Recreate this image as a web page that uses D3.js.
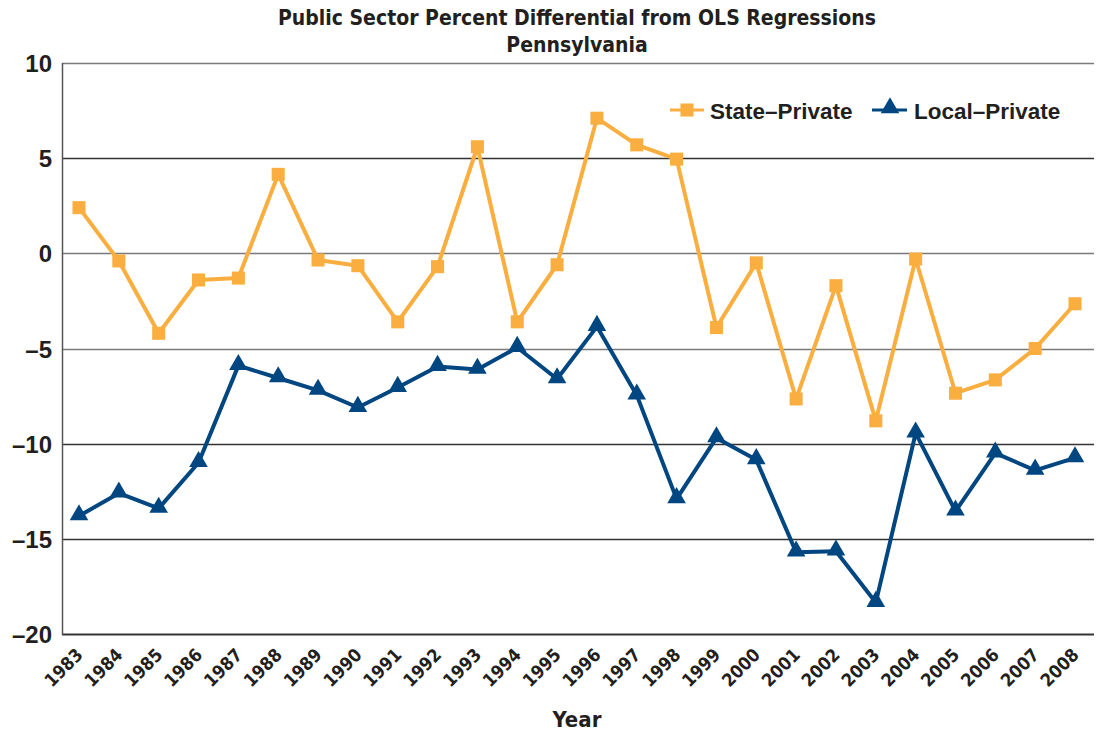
<!DOCTYPE html>
<html>
<head>
<meta charset="utf-8">
<script src="https://cdn.jsdelivr.net/npm/d3@7"></script>
<style>
  body { margin: 0; background: #fff; }
  svg { display: block; }
  .cond { font-family: "Liberation Sans Narrow", "DejaVu Sans Condensed", "Roboto Condensed", sans-serif; font-weight: bold; }
</style>
</head>
<body>
<svg id="chart" width="1096" height="736"></svg>
<script>
const years = d3.range(1983, 2009);
const statePrivate = [2.4, -0.4, -4.2, -1.4, -1.3, 4.15, -0.35, -0.65, -3.6, -0.7, 5.6, -3.6, -0.6,
  7.1, 5.7, 4.95, -3.9, -0.5, -7.65, -1.7, -8.8, -0.3, -7.35, -6.65, -5.0, -2.65];
const localPrivate = [-13.8, -12.6, -13.4, -11.0, -5.9, -6.55, -7.2, -8.1, -7.05, -5.95, -6.1, -4.95, -6.6,
  -3.85, -7.45, -12.9, -9.7, -10.85, -15.7, -15.65, -18.35, -9.45, -13.55, -10.5, -11.4, -10.75];
const yTicks = [10, 5, 0, -5, -10, -15, -20];

const orange = "#f9ae3f", blue = "#004680";
const svg = d3.select("#chart");

const x = d3.scalePoint().domain(years).range([79, 1075]);
const y = d3.scaleLinear().domain([-20, 10]).range([634, 63]);
const left = 62, right = 1094;

// title
svg.append("text").attr("class", "cond").attr("x", 577).attr("y", 25)
  .attr("text-anchor", "middle").attr("font-size", 21).attr("fill", "#231f20")
  .text("Public Sector Percent Differential from OLS Regressions");
svg.append("text").attr("class", "cond").attr("x", 577).attr("y", 52)
  .attr("text-anchor", "middle").attr("font-size", 21).attr("fill", "#231f20")
  .text("Pennsylvania");

// grid
svg.append("g").selectAll("line").data(yTicks).join("line")
  .attr("x1", left).attr("x2", right)
  .attr("y1", d => Math.round(y(d)) + 0.5).attr("y2", d => Math.round(y(d)) + 0.5)
  .attr("stroke", d => (d === 10 || d === -5 || d === 0) ? "#7a7a7a" : "#333")
  .attr("stroke-width", d => d === -20 ? 2 : 1.3);
svg.append("line").attr("x1", left + 0.5).attr("x2", left + 0.5)
  .attr("y1", y(10)).attr("y2", y(-20) + 1).attr("stroke", "#555").attr("stroke-width", 1.5);

// y labels
svg.append("g").selectAll("text").data(yTicks).join("text")
  .attr("x", 52).attr("y", d => y(d) + 9)
  .attr("text-anchor", "end")
  .attr("font-family", "Liberation Sans, Arial, sans-serif")
  .attr("font-weight", "bold").attr("font-size", 24).attr("fill", "#231f20")
  .text(d => d < 0 ? "\u2013" + Math.abs(d) : d);

// x labels
svg.append("g").selectAll("text").data(years).join("text")
  .attr("class", "cond")
  .attr("transform", d => `translate(${x(d) + 5},${656}) rotate(-45)`)
  .attr("text-anchor", "end").attr("font-size", 18).attr("fill", "#231f20")
  .text(d => d);

svg.append("text").attr("class", "cond").attr("x", 577).attr("y", 727)
  .attr("text-anchor", "middle").attr("font-size", 22).attr("fill", "#231f20")
  .text("Year");

// lines
const line = d3.line().x((d, i) => x(years[i])).y(d => y(d));
svg.append("path").datum(statePrivate).attr("d", line)
  .attr("fill", "none").attr("stroke", orange).attr("stroke-width", 4).attr("stroke-linejoin", "round");
svg.append("path").datum(localPrivate).attr("d", line)
  .attr("fill", "none").attr("stroke", blue).attr("stroke-width", 4).attr("stroke-linejoin", "round");

const sq = d3.symbol().type(d3.symbolSquare).size(170);
const tri = d3.symbol().type(d3.symbolTriangle).size(150);

svg.append("g").selectAll("path").data(statePrivate).join("path")
  .attr("transform", (d, i) => `translate(${x(years[i])},${y(d)})`)
  .attr("d", sq).attr("fill", orange);
svg.append("g").selectAll("path").data(localPrivate).join("path")
  .attr("transform", (d, i) => `translate(${x(years[i])},${y(d) - 1})`)
  .attr("d", tri).attr("fill", blue);

// legend
const lg = svg.append("g");
lg.append("line").attr("x1", 670).attr("x2", 704).attr("y1", 110).attr("y2", 110)
  .attr("stroke", orange).attr("stroke-width", 3);
lg.append("path").attr("transform", "translate(687,110)").attr("d", sq).attr("fill", orange);
lg.append("text").attr("x", 710).attr("y", 119)
  .attr("font-family", "Liberation Sans, Arial, sans-serif").attr("font-weight", "bold")
  .attr("font-size", 22.5).attr("fill", "#231f20").text("State\u2013Private");
lg.append("line").attr("x1", 872).attr("x2", 907).attr("y1", 110).attr("y2", 110)
  .attr("stroke", blue).attr("stroke-width", 3);
lg.append("path").attr("transform", "translate(890,108)").attr("d", tri).attr("fill", blue);
lg.append("text").attr("x", 914).attr("y", 119)
  .attr("font-family", "Liberation Sans, Arial, sans-serif").attr("font-weight", "bold")
  .attr("font-size", 22.5).attr("fill", "#231f20").text("Local\u2013Private");
</script>
</body>
</html>
